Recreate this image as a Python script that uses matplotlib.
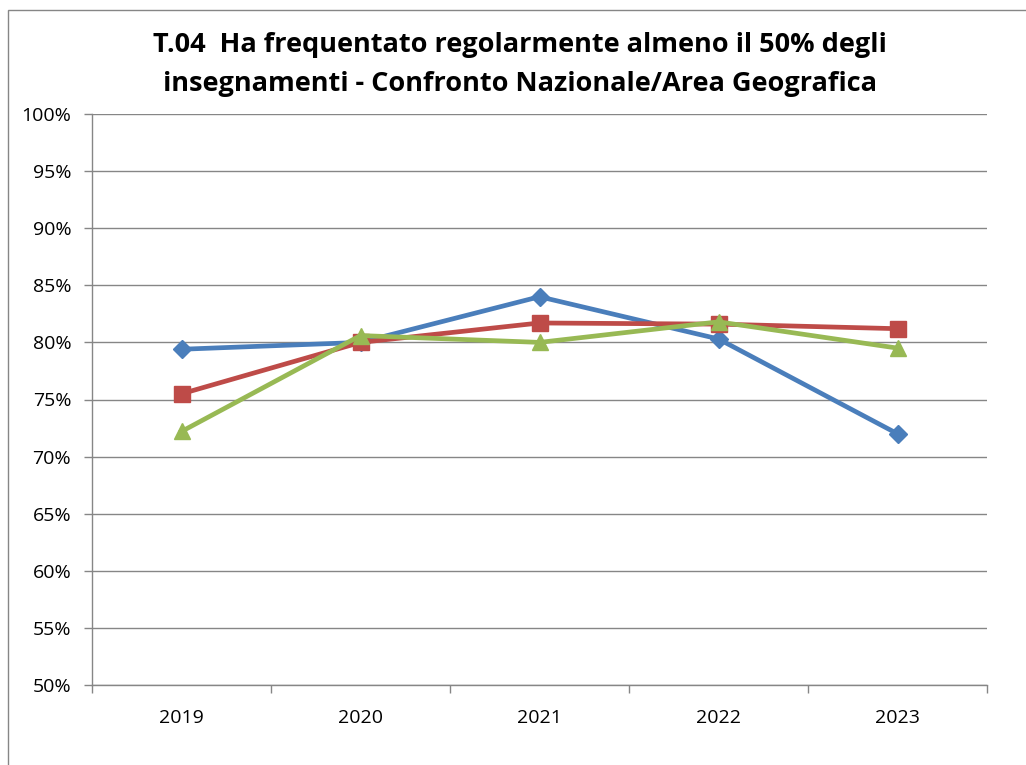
import matplotlib
matplotlib.use("Agg")
import matplotlib.pyplot as plt
from matplotlib.patches import Rectangle
from matplotlib.ticker import FixedLocator, NullFormatter

years = ["2019", "2020", "2021", "2022", "2023"]
blue_vals = [79.4, 80.0, 84.0, 80.3, 72.0]
red_vals = [75.5, 80.0, 81.7, 81.6, 81.2]
green_vals = [72.2, 80.6, 80.0, 81.8, 79.5]
y_ticks = list(range(50, 101, 5))
title_lines = ["T.04  Ha frequentato regolarmente almeno il 50% degli",
               "insegnamenti - Confronto Nazionale/Area Geografica"]

plt.rcParams['font.family'] = ['Open Sans', 'DejaVu Sans']

W, H = 1026, 765
fig = plt.figure(figsize=(W/100, H/100), dpi=100)
# outer chart frame
fig.patches.append(Rectangle((8/W, -0.1), 1.2, (H-10)/H + 0.1, transform=fig.transFigure,
                             fill=False, edgecolor='#868686', linewidth=1.0))

ax = fig.add_axes([92/W, 1-685/H, (987-92)/W, (685-114)/H])
x = list(range(len(years)))
ax.plot(x, blue_vals, color='#4A7EBB', lw=3.4, marker='D', ms=9, zorder=3, clip_on=False)
ax.plot(x, red_vals, color='#BE4B48', lw=3.4, marker='s', ms=11, zorder=3, clip_on=False)
ax.plot(x, green_vals, color='#98B954', lw=3.4, marker='^', ms=12, zorder=4, clip_on=False)

ax.set_xlim(-0.5, len(years)-0.5)
ax.set_ylim(50, 100)
ax.set_yticks(y_ticks)
ax.set_yticklabels([f"{v}%" for v in y_ticks], fontsize=14)
ax.yaxis.grid(True, color='#868686', lw=1)
ax.set_axisbelow(True)
ax.set_xticks(x)
ax.set_xticklabels(years, fontsize=14)
ax.tick_params(axis='x', which='major', length=0, pad=17)
ax.xaxis.set_minor_locator(FixedLocator([i-0.5 for i in range(len(years)+1)]))
ax.xaxis.set_minor_formatter(NullFormatter())
ax.tick_params(axis='x', which='minor', length=6, color='#868686', width=1)
ax.tick_params(axis='y', length=6, color='#868686', width=1, pad=9)
for s in ['top', 'right']:
    ax.spines[s].set_visible(False)
for s in ['left', 'bottom']:
    ax.spines[s].set_color('#868686')
    ax.spines[s].set_linewidth(1)

for line, yc in zip(title_lines, [45, 84]):
    fig.text(520/W, 1-yc/H, line, ha='center', va='center', fontsize=19.5, fontweight='bold')

fig.savefig("out.png", dpi=100)
